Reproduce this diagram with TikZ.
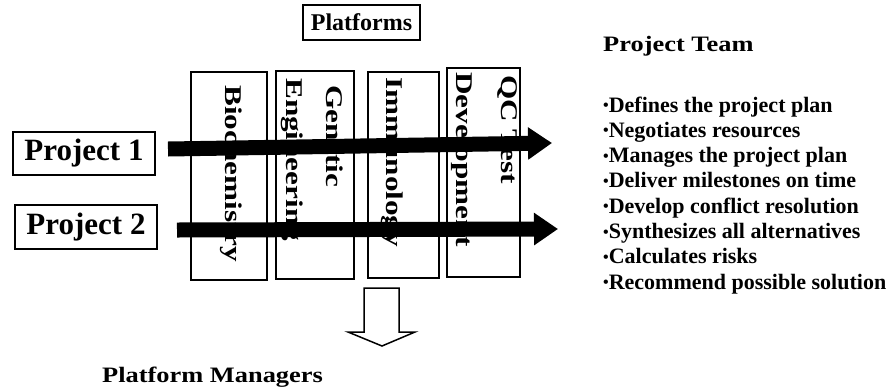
\documentclass[tikz,border=0pt]{standalone}
\usepackage{fontspec}
\setmainfont{Liberation Serif}
\newfontfamily\widefont[FakeStretch=1.3]{Liberation Serif}
\newfontfamily\headfont[FakeStretch=1.2]{Liberation Serif}
\usetikzlibrary{arrows.meta}
\begin{document}
\begin{tikzpicture}[x=1pt,y=-1pt,
  box/.style={draw, line width=1.2pt, inner sep=0pt},
  colbox/.style={box},
  coltext/.style={rotate=-90, anchor=base west, inner sep=0pt,
    font=\fontsize{24}{24}\selectfont\widefont\bfseries},
  projtext/.style={font=\fontsize{31}{31}\selectfont\bfseries},
  headtext/.style={anchor=base west, inner sep=0pt,
    font=\fontsize{22}{22}\selectfont\headfont\bfseries},
  bullettext/.style={anchor=base west, inner sep=0pt,
    font=\fontsize{22}{22}\selectfont\bfseries},
  bigarrow/.style={line width=15pt, -{Triangle[length=24pt,width=31pt]}},
]
\useasboundingbox (0,0) rectangle (891,389);

% Platforms label
\node[box, minimum width=117pt, minimum height=35pt,
  font=\fontsize{24}{24}\selectfont\bfseries] (plat) at (361.5,22.5) {Platforms};

% platform columns
\node[colbox, minimum width=76pt, minimum height=208pt] (c1) at (229,176) {};
\node[colbox, minimum width=78pt, minimum height=208pt] (c2) at (315,175) {};
\node[colbox, minimum width=71pt, minimum height=206pt] (c3) at (403.5,175) {};
\node[colbox, minimum width=73pt, minimum height=209pt] (c4) at (483.5,172.5) {};

\node[coltext] (t1) at (225,85) {Biochemistry};
\node[coltext] (t2a) at (326,85) {Genetic};
\node[coltext] (t2b) at (286,78) {Engineering};
\node[coltext] (t3) at (386,77) {Immunology};
\node[coltext] (t4a) at (501,75) {QC Test};
\node[coltext] (t4b) at (456,72) {Development};

% projects
\node[box, projtext, minimum width=142pt, minimum height=43pt] (p1) at (84,153.5) {Project 1};
\node[box, projtext, minimum width=142pt, minimum height=44pt] (p2) at (86,227) {Project 2};

% project arrows
\coordinate (a1s) at (168,149);
\coordinate (a1e) at (552,143);
\coordinate (a2s) at (177,230);
\coordinate (a2e) at (558,229);
\draw[bigarrow] (a1s) -- (a1e);
\draw[bigarrow] (a2s) -- (a2e);

% down arrow
\draw[line width=1.5pt, fill=white, line join=miter]
  (364,288) -- (399,288) -- (399,332) -- (415,332) -- (382,346)
  -- (348,332) -- (364,332) -- cycle;

% headings
\node[headtext] (team) at (603,51) {Project Team};
\node[headtext] (mgr) at (102,382) {Platform Managers};

% bullets
\foreach \t [count=\i] in {Defines the project plan, Negotiates resources,
  Manages the project plan, Deliver milestones on time,
  Develop conflict resolution, Synthesizes all alternatives,
  Calculates risks, Recommend possible solution}
  \node[bullettext] (b\i) at (603,{112+25.3*(\i-1)})
    {{\fontsize{16}{16}\selectfont\raisebox{1.5pt}{•}}\t};
\end{tikzpicture}
\end{document}
